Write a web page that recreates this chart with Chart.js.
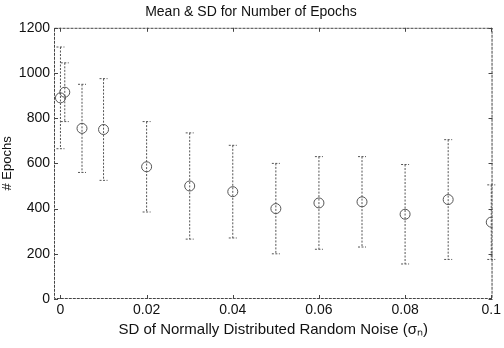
<!DOCTYPE html>
<html>
<head>
<meta charset="utf-8">
<script src="https://cdn.jsdelivr.net/npm/chart.js@4.4.0/dist/chart.umd.min.js"></script>
<style>
  html, body { margin: 0; padding: 0; background: #fff; }
  #wrap { width: 504px; height: 348px; }
</style>
</head>
<body>
<div id="wrap"><canvas id="epochsChart" width="504" height="348"></canvas></div>
<script>
// noise level (sigma_n)
const noiseLevels = [0, 0.001, 0.005, 0.01, 0.02, 0.03, 0.04, 0.05, 0.06, 0.07, 0.08, 0.09, 0.1];
// mean number of epochs
const meanEpochs = [890, 915, 755, 750, 585, 500, 475, 400, 425, 430, 375, 440, 340];
// standard deviation of epochs
const sdEpochs = [225, 130, 195, 225, 200, 235, 205, 200, 205, 200, 220, 265, 165];

const xTicks = [0, 0.02, 0.04, 0.06, 0.08, 0.1];
const yTicks = [0, 200, 400, 600, 800, 1000, 1200];

/**
 * Error bars + box with inward ticks (MATLAB look)
 */
const errorBarPlugin = {
    id: 'errorBars',
    beforeDatasetsDraw(chart) {
        const { ctx, scales: { x, y } } = chart;
        ctx.save();
        ctx.strokeStyle = '#555';
        ctx.lineWidth = 1;
        ctx.setLineDash([2, 1.5]);
        noiseLevels.forEach((xv, i) => {
            const px = x.getPixelForValue(xv);
            const top = y.getPixelForValue(meanEpochs[i] + sdEpochs[i]);
            const bot = y.getPixelForValue(meanEpochs[i] - sdEpochs[i]);
            ctx.beginPath();
            ctx.moveTo(px, top);
            ctx.lineTo(px, bot);
            ctx.moveTo(px - 4, top);
            ctx.lineTo(px + 4, top);
            ctx.moveTo(px - 4, bot);
            ctx.lineTo(px + 4, bot);
            ctx.stroke();
        });
        ctx.restore();
    },
    afterDraw(chart) {
        const { ctx, chartArea: a, scales: { x, y } } = chart;
        ctx.save();
        ctx.strokeStyle = '#444';
        ctx.lineWidth = 1;
        ctx.setLineDash([3, 1]);
        ctx.strokeRect(a.left + 0.5, a.top + 0.5, a.width - 1, a.height - 1);
        ctx.setLineDash([]);
        ctx.beginPath();
        xTicks.forEach(v => {
            const px = Math.round(x.getPixelForValue(v)) + 0.5;
            ctx.moveTo(px, a.bottom); ctx.lineTo(px, a.bottom - 4);
            ctx.moveTo(px, a.top); ctx.lineTo(px, a.top + 4);
        });
        yTicks.forEach(v => {
            const py = Math.round(y.getPixelForValue(v)) + 0.5;
            ctx.moveTo(a.left, py); ctx.lineTo(a.left + 4, py);
            ctx.moveTo(a.right, py); ctx.lineTo(a.right - 4, py);
        });
        ctx.stroke();
        ctx.restore();
    }
};

Chart.defaults.font.family = 'Arial, "Liberation Sans", sans-serif';
Chart.defaults.color = '#111';

new Chart(document.getElementById('epochsChart'), {
    type: 'scatter',
    data: {
        datasets: [{
            label: 'Mean',
            data: noiseLevels.map((v, i) => ({ x: v, y: meanEpochs[i] })),
            pointStyle: 'circle',
            pointRadius: 5,
            pointBorderColor: '#555',
            pointBackgroundColor: 'rgba(0,0,0,0)',
            pointBorderWidth: 1
        }]
    },
    options: {
        responsive: false,
        animation: false,
        layout: { padding: { left: 0, right: 2, top: 0, bottom: 9 } },
        plugins: {
            legend: { display: false },
            tooltip: { enabled: false },
            title: {
                display: true,
                text: 'Mean & SD for Number of Epochs',
                font: { size: 14, weight: 'normal' },
                color: '#111',
                padding: { top: 4, bottom: 7 }
            }
        },
        scales: {
            x: {
                type: 'linear',
                min: -0.0015,
                max: 0.1003,
                afterBuildTicks: (s) => { s.ticks = xTicks.map(v => ({ value: v })); },
                ticks: {
                    font: { size: 14 },
                    color: '#111',
                    padding: 3,
                    callback: (v) => String(Math.round(v * 100) / 100)
                },
                grid: { display: false, drawTicks: false },
                border: { display: false },
                title: {
                    display: true,
                    text: 'SD of Normally Distributed Random Noise (σₙ)',
                    font: { size: 15 },
                    color: '#111',
                    padding: { top: 1, bottom: 0 }
                },
                afterFit: (s) => { s.height = 40; }
            },
            y: {
                min: 0,
                max: 1200,
                afterBuildTicks: (s) => { s.ticks = yTicks.map(v => ({ value: v })); },
                ticks: {
                    font: { size: 14 },
                    color: '#111',
                    padding: 4,
                    callback: (v) => String(v)
                },
                grid: { display: false, drawTicks: false },
                border: { display: false },
                title: {
                    display: true,
                    text: '# Epochs',
                    font: { size: 13 },
                    color: '#111',
                    padding: 0
                },
                afterFit: (s) => { s.width = 54; }
            }
        }
    },
    plugins: [errorBarPlugin]
});
</script>
</body>
</html>
